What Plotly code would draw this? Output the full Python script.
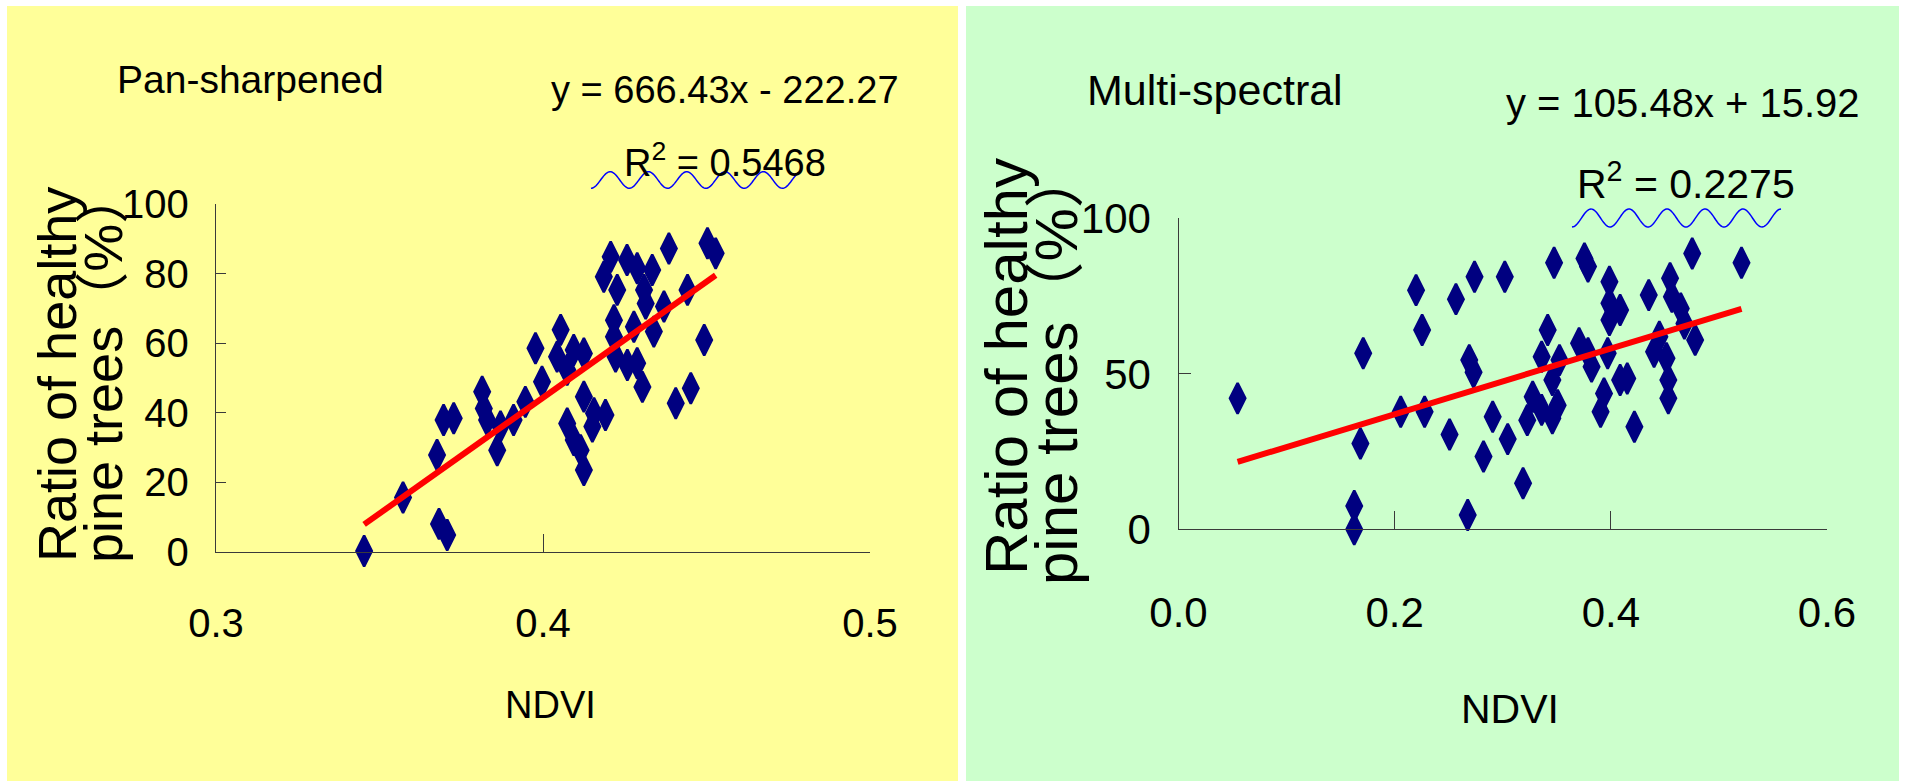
import numpy as np
import plotly.graph_objects as go

# ---------------- data ----------------
pan_ndvi = [0.3453, 0.3572, 0.3682, 0.3707, 0.3676, 0.3696, 0.3727, 0.3814, 0.3819, 0.3829,
            0.3860, 0.3870, 0.3910, 0.3946, 0.3977, 0.3997, 0.4054, 0.4043, 0.4074, 0.4094,
            0.4125, 0.4074, 0.4094, 0.4125, 0.4156, 0.4125, 0.4191, 0.4115, 0.4151, 0.4207,
            0.4186, 0.4257, 0.4227, 0.4288, 0.4334, 0.4309, 0.4314, 0.4385, 0.4503, 0.4528,
            0.4442, 0.4370, 0.4217, 0.4217, 0.4278, 0.4339, 0.4222, 0.4258, 0.4288, 0.4304,
            0.4493, 0.4452, 0.4406]
pan_ratio = [0.2, 15.6, 8.0, 4.8, 27.8, 37.9, 38.4, 46.0, 41.2, 37.9,
             29.2, 36.0, 37.9, 43.1, 58.5, 48.9, 63.8, 56.1, 52.3, 58.0,
             57.0, 36.9, 32.1, 44.6, 39.8, 23.5, 39.3, 29.2, 36.0, 84.8,
             79.1, 83.9, 75.3, 81.5, 81.0, 75.3, 71.4, 87.2, 88.7, 85.8,
             75.3, 70.5, 66.6, 61.8, 64.7, 63.3, 56.1, 53.7, 54.2, 47.4,
             60.9, 47.0, 42.7]

ms_ndvi = [0.0547, 0.1709, 0.1626, 0.1626, 0.1683, 0.2056, 0.2277, 0.2198, 0.2254, 0.2508,
           0.2567, 0.2739, 0.2690, 0.2730, 0.2676, 0.2822, 0.2907, 0.3019, 0.3046, 0.3188,
           0.3475, 0.3416, 0.3360, 0.3277, 0.3227, 0.3360, 0.3459, 0.3508, 0.3459, 0.3525,
           0.3756, 0.3789, 0.3706, 0.3789, 0.3822, 0.3987, 0.3987, 0.4086, 0.3987, 0.3971,
           0.3937, 0.3905, 0.4086, 0.4152, 0.4218, 0.4351, 0.4548, 0.4565, 0.4647, 0.4400,
           0.4515, 0.4532, 0.4532, 0.4449, 0.4780, 0.4681, 0.4753, 0.5209]
ms_ratio = [42.1, 56.6, 7.5, 0.0, 27.6, 37.8, 37.8, 76.9, 64.1, 30.5,
            74.0, 81.2, 54.4, 50.5, 4.6, 23.4, 36.2, 81.2, 29.0, 14.8,
            85.7, 64.1, 55.5, 42.6, 35.1, 38.4, 35.7, 39.9, 48.0, 54.4,
            87.1, 84.5, 59.8, 56.6, 52.3, 79.6, 72.7, 70.5, 67.3, 56.6,
            43.7, 37.8, 48.0, 48.5, 33.0, 75.3, 80.7, 74.8, 71.0, 57.1,
            55.0, 48.0, 42.1, 61.9, 60.9, 66.2, 88.7, 85.7]

pan_slope, pan_intercept, pan_r2 = 666.43, -222.27, 0.5468
ms_slope, ms_intercept, ms_r2 = 105.48, 15.92, 0.2275

pan_xticks = [0.3, 0.4, 0.5]
pan_xticklabels = ["0.3", "0.4", "0.5"]
pan_yticks = [0, 20, 40, 60, 80, 100]
pan_yticklabels = ["0", "20", "40", "60", "80", "100"]
ms_xticks = [0.0, 0.2, 0.4, 0.6]
ms_xticklabels = ["0.0", "0.2", "0.4", "0.6"]
ms_yticks = [0, 50, 100]
ms_yticklabels = ["0", "50", "100"]

panel_titles = ["Pan-sharpened", "Multi-spectral"]
y_title_lines = ["Ratio of healthy", "pine trees\uff08%\uff09"]
x_title = "NDVI"

# ---------------- styling ----------------
W, H = 1906, 781
FONT = "Liberation Sans, Arial, Noto Sans CJK SC, sans-serif"
AXIS_COL = "#3a3a3a"
MARKER_COL = "#000080"


def px(x):
    return x / W


def py(y):
    return 1 - y / H


fig = go.Figure()

marker_style = dict(symbol="diamond-tall", size=22, color=MARKER_COL,
                    line=dict(color=MARKER_COL, width=2.5))

fig.add_trace(go.Scatter(x=pan_ndvi, y=pan_ratio, mode="markers", xaxis="x", yaxis="y",
                         marker=marker_style, cliponaxis=False, showlegend=False))
px_line = [min(pan_ndvi), max(pan_ndvi)]
fig.add_trace(go.Scatter(x=px_line, y=[pan_slope * v + pan_intercept for v in px_line],
                         mode="lines", xaxis="x", yaxis="y",
                         line=dict(color="#ff0000", width=6), cliponaxis=False, showlegend=False))

fig.add_trace(go.Scatter(x=ms_ndvi, y=ms_ratio, mode="markers", xaxis="x2", yaxis="y2",
                         marker=marker_style, cliponaxis=False, showlegend=False))
ms_line = [min(ms_ndvi), max(ms_ndvi)]
fig.add_trace(go.Scatter(x=ms_line, y=[ms_slope * v + ms_intercept for v in ms_line],
                         mode="lines", xaxis="x2", yaxis="y2",
                         line=dict(color="#ff0000", width=6), cliponaxis=False, showlegend=False))

axis_common = dict(showline=True, linecolor=AXIS_COL, linewidth=1.3, ticks="inside",
                   tickcolor=AXIS_COL, tickwidth=1.3, showgrid=False, zeroline=False,
                   fixedrange=True, automargin=False)

fig.update_layout(
    template="none",
    width=W, height=H, margin=dict(l=0, r=0, t=0, b=0, pad=0, autoexpand=False),
    paper_bgcolor="white", plot_bgcolor="rgba(0,0,0,0)",
    xaxis=dict(domain=[px(216), px(870)], range=[0.3, 0.5], anchor="y",
               tickvals=pan_xticks, ticktext=pan_xticklabels, ticklen=18,
               tickfont=dict(family=FONT, size=40, color="black"), ticklabelstandoff=36,
               **axis_common),
    yaxis=dict(domain=[py(551.7), py(204)], range=[0, 100], anchor="x",
               tickvals=pan_yticks, ticktext=pan_yticklabels, ticklen=10,
               tickfont=dict(family=FONT, size=40, color="black"), ticklabelstandoff=18,
               **axis_common),
    xaxis2=dict(domain=[px(1178.5), px(1827)], range=[0, 0.6], anchor="y2",
                tickvals=ms_xticks, ticktext=ms_xticklabels, ticklen=18,
                tickfont=dict(family=FONT, size=42, color="black"), ticklabelstandoff=46,
                **axis_common),
    yaxis2=dict(domain=[py(529.3), py(218.3)], range=[0, 100], anchor="x2",
                tickvals=ms_yticks, ticktext=ms_yticklabels, ticklen=12,
                tickfont=dict(family=FONT, size=42, color="black"), ticklabelstandoff=18,
                **axis_common),
)

# panel backgrounds
fig.add_shape(type="rect", xref="paper", yref="paper", x0=px(7), x1=px(958), y0=0, y1=py(6),
              fillcolor="#ffff99", line=dict(width=0), layer="below")
fig.add_shape(type="rect", xref="paper", yref="paper", x0=px(966), x1=px(1899), y0=0, y1=py(6),
              fillcolor="#ccffcc", line=dict(width=0), layer="below")


def squiggle(x0, x1, yc, amp, period):
    xs = np.linspace(x0, x1, 200)
    ys = yc + amp * np.cos(2 * np.pi * (xs - x0) / period)
    return "M" + " L".join(f"{px(a):.5f},{py(b):.5f}" for a, b in zip(xs, ys))


fig.add_shape(type="path", xref="paper", yref="paper", path=squiggle(591, 799, 180, 8.3, 38.3),
              line=dict(color="#0000ff", width=1.5))
fig.add_shape(type="path", xref="paper", yref="paper", path=squiggle(1572, 1781, 218, 9, 38),
              line=dict(color="#0000ff", width=1.5))


def ann(text, x, y, size, angle=0):
    fig.add_annotation(text=text, x=px(x), y=py(y), xref="paper", yref="paper",
                       xanchor="center", yanchor="middle", showarrow=False, textangle=angle,
                       font=dict(family=FONT, size=size, color="black"))


# left panel texts
ann(panel_titles[0], 250, 79, 39)
ann(f"y = {pan_slope:.2f}x - {abs(pan_intercept):.2f}", 725, 90, 38)
ann(f"R<sup>2</sup> = {pan_r2:.4f}", 725, 160, 38)
ann(y_title_lines[0], 57, 375, 54, -90)
ann(y_title_lines[1], 103, 367, 54, -90)
ann(x_title, 550, 705, 38)

# right panel texts
ann(panel_titles[1], 1215, 90, 43)
ann(f"y = {ms_slope:.2f}x + {ms_intercept:.2f}", 1683, 103, 40)
ann(f"R<sup>2</sup> = {ms_r2:.4f}", 1686, 181, 41)
ann(y_title_lines[0], 1007, 367, 60, -90)
ann(y_title_lines[1], 1057, 367, 60, -90)
ann(x_title, 1510, 709, 41)

fig.write_html("out.html", config={"displayModeBar": False},
               post_script="document.body.style.margin='0px';")
